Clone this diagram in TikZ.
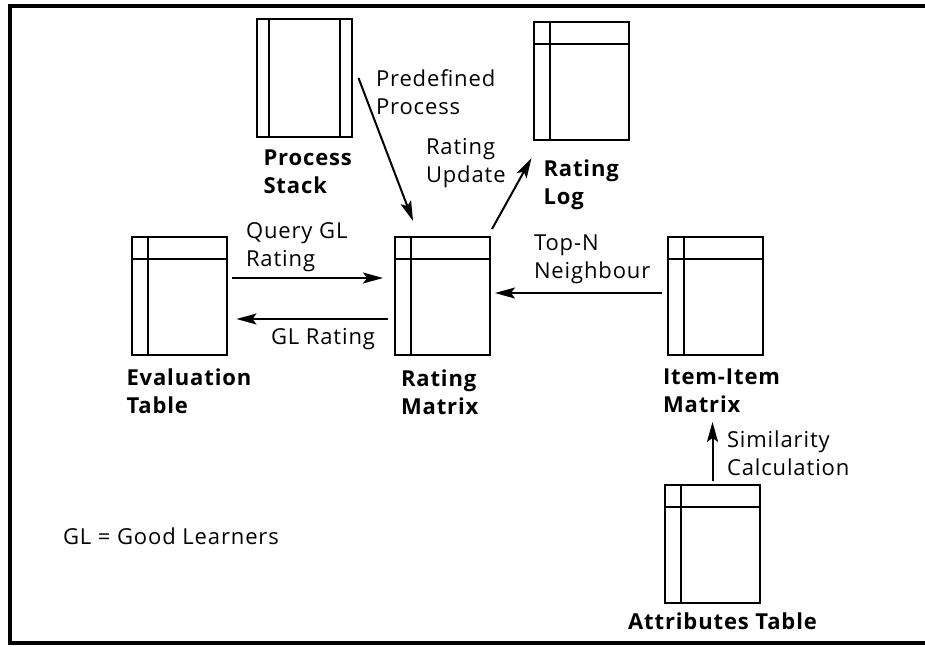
\documentclass[tikz,border=0pt]{standalone}
\usepackage{fontspec}
\setmainfont{Open Sans}[LetterSpace=4]
\usetikzlibrary{positioning,arrows.meta}
\begin{document}
\begin{tikzpicture}[x=1pt,y=-1pt,line width=2pt,
  font=\fontsize{22}{28}\selectfont,
  tbl/.style={draw,rectangle,minimum width=95pt,minimum height=118pt,inner sep=0pt},
  tname/.style={font=\fontsize{22}{28}\selectfont\bfseries,align=left,inner sep=0pt},
  lbl/.style={align=left,inner sep=0pt,anchor=north west},
  flow/.style={-{Stealth[length=20pt,width=11pt,inset=4pt]}}]
\useasboundingbox (0,0) rectangle (925,646);
\draw [line width=4pt] (925,6) -| (10,643) -- (925,643);
\node[tbl] (ps) at (304,78) {};
\node[tbl] (rl) at (581,81) {};
\node[tbl] (et) at (179,296) {};
\node[tbl] (rm) at (442.5,296) {};
\node[tbl] (im) at (715.5,296) {};
\node[tbl] (at) at (712.5,544) {};
\draw ([xshift=13]ps.north west) -- ([xshift=13]ps.south west);
\draw ([xshift=-13]ps.north east) -- ([xshift=-13]ps.south east);
\draw ([xshift=17]rl.north west) -- ([xshift=17]rl.south west);
\draw ([yshift=-23]rl.north west) -- ([yshift=-23]rl.north east);
\draw ([xshift=17]et.north west) -- ([xshift=17]et.south west);
\draw ([yshift=-23]et.north west) -- ([yshift=-23]et.north east);
\draw ([xshift=17]rm.north west) -- ([xshift=17]rm.south west);
\draw ([yshift=-23]rm.north west) -- ([yshift=-23]rm.north east);
\draw ([xshift=17]im.north west) -- ([xshift=17]im.south west);
\draw ([yshift=-23]im.north west) -- ([yshift=-23]im.north east);
\draw ([xshift=17]at.north west) -- ([xshift=17]at.south west);
\draw ([yshift=-23]at.north west) -- ([yshift=-23]at.north east);
\node[tname,below right=11pt and 7pt of ps.south west] (psl) {Process\\Stack};
\node[tname,below right=18pt and 10pt of rl.south west] (rll) {Rating\\Log};
\node[tname,below right=12pt and -5pt of et.south west] (etl) {Evaluation\\Table};
\node[tname,below right=13pt and 6pt of rm.south west] (rml) {Rating\\Matrix};
\node[tname,below right=12pt and -5pt of im.south west] (iml) {Item-Item\\Matrix};
\node[tname,below=8pt of at.south,xshift=10pt] (atl) {Attributes Table};
\draw [flow] ([xshift=6]ps.east) -- ([xshift=-29.5,yshift=15]rm.north);
\draw [flow] ([xshift=1,yshift=7]rm.north east) -- ([xshift=-1,yshift=-17]rl.south west);
\draw [flow] ([xshift=4,yshift=18]et.east) -- ([xshift=-11,yshift=18]rm.west);
\draw [flow] ([xshift=-6,yshift=-23]rm.west) -- ([xshift=9,yshift=-23]et.east);
\draw [flow] ([xshift=-5,yshift=3]im.west) -- ([xshift=4,yshift=3]rm.east);
\draw [flow] ([yshift=3]at.north) -- ([yshift=-8]at.north |- iml.south);
\node[lbl] (pre) at (375,69) {Predefined\\Process};
\node[lbl] (upd) at (425,137) {Rating\\Update};
\node[lbl] (qry) at (245,222) {Query GL\\Rating};
\node[lbl] (glr) at (270,327) {GL Rating};
\node[lbl] (top) at (533,234) {Top-N\\Neighbour};
\node[lbl] (sim) at (726,430) {Similarity\\Calculation};
\node[lbl] (key) at (62,527) {GL = Good Learners};
\end{tikzpicture}
\end{document}
